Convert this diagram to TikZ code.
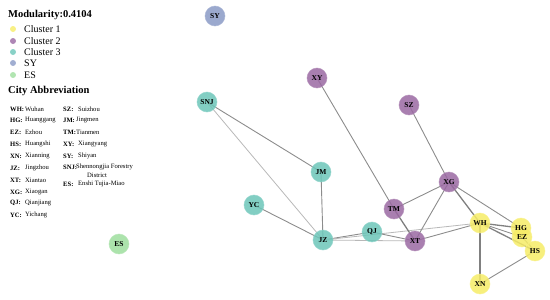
\documentclass[tikz,border=0pt]{standalone}
\usepackage{fontspec}
\setmainfont{Liberation Serif}
\pgfdeclarelayer{bg}\pgfdeclarelayer{fl}\pgfsetlayers{bg,fl,main}
\begin{document}
\begin{tikzpicture}[x=1pt,y=-1pt,
  cityn/.style={circle,minimum size=20pt,inner sep=0pt,font=\fontsize{7.5}{8}\selectfont\bfseries},
  ethick/.style={draw=black!50,line width=1.3pt},
  emed/.style={draw=black!45,line width=0.9pt},
  elight/.style={draw=black!28,line width=0.8pt},
  legdot/.style={circle,inner sep=0pt,minimum size=6pt,fill opacity=0.8},
  legtxt/.style={anchor=west,inner sep=0pt,font=\fontsize{10}{11}\selectfont},
  abc/.style={anchor=west,inner sep=0pt,font=\fontsize{6.6}{7}\selectfont},
  hd/.style={anchor=west,inner sep=0pt,font=\fontsize{10.5}{12}\selectfont\bfseries}
]
\definecolor{cyel}{HTML}{F6EC66}
\definecolor{cpur}{HTML}{9A68A2}
\definecolor{ctea}{HTML}{6CC6B9}
\definecolor{csyc}{HTML}{8A9AC6}
\definecolor{cesc}{HTML}{9EDE9E}
\useasboundingbox (0,0) rectangle (550,300);

% nodes (labels on main layer)
\node[cityn] (SY) at (215,16) {SY};
\node[cityn] (XY) at (317,78) {XY};
\node[cityn] (SNJ) at (207,102) {SNJ};
\node[cityn] (SZ) at (409,105) {SZ};
\node[cityn] (JM) at (321,172) {JM};
\node[cityn] (YC) at (254,205) {YC};
\node[cityn] (JZ) at (323,240) {JZ};
\node[cityn] (QJ) at (372,232) {QJ};
\node[cityn] (TM) at (394,209) {TM};
\node[cityn] (XT) at (415,241) {XT};
\node[cityn] (XG) at (449,182) {XG};
\node[cityn] (WH) at (480,223) {WH};
\node[cityn] (HG) at (521,228) {HG};
\node[cityn] (EZ) at (522,237) {EZ};
\node[cityn] (HS) at (535,251) {HS};
\node[cityn] (XN) at (480,284) {XN};
\node[cityn] (ES) at (119,244) {ES};

% node fills
\begin{pgfonlayer}{fl}
\foreach \n/\c in {SY/csyc,XY/cpur,SNJ/ctea,SZ/cpur,JM/ctea,YC/ctea,JZ/ctea,QJ/ctea,TM/cpur,XT/cpur,XG/cpur,WH/cyel,HG/cyel,EZ/cyel,HS/cyel,XN/cyel,ES/cesc}
  \filldraw[fill=\c,draw=\c!75!white,fill opacity=0.85,draw opacity=0.7,line width=0.6pt] (\n.center) circle (10pt);
\end{pgfonlayer}

% edges (behind nodes)
\begin{pgfonlayer}{bg}
\draw[elight] (SNJ.center) -- (JZ.center);
\draw[emed] (SNJ.center) -- (JM.center);
\draw[emed] (XY.center) -- (TM.center);
\draw[emed] (SZ.center) -- (XG.center);
\draw[emed] (JM.center) -- (JZ.center);
\draw[emed] (YC.center) -- (JZ.center);
\draw[emed] (JZ.center) -- (QJ.center);
\draw[elight] (JZ.center) -- (XT.center);
\draw[elight] (JZ.center) -- (WH.center);
\draw[emed] (QJ.center) -- (XT.center);
\draw[ethick] (TM.center) -- (XT.center);
\draw[emed] (TM.center) -- (XG.center);
\draw[emed] (XG.center) -- (XT.center);
\draw[ethick] (XG.center) -- (WH.center);
\draw[emed] (XG.center) -- (HG.center);
\draw[emed] (XT.center) -- (WH.center);
\draw[ethick] (WH.center) -- (HG.center);
\draw[emed] (WH.center) -- (EZ.center);
\draw[ethick] (WH.center) -- (HS.center);
\draw[ethick] (WH.center) -- (XN.center);
\draw[emed] (XN.center) -- (HS.center);
\draw[emed] (EZ.center) -- (HS.center);
\end{pgfonlayer}

% legend
\node[hd] (mod) at (8,15) {Modularity:0.4104};
\node[legdot,fill=cyel] (d1) at (13,29) {};
\node[legtxt] (l1) at (24,29) {Cluster 1};
\node[legdot,fill=cpur] (d2) at (13,41) {};
\node[legtxt] (l2) at (24,41) {Cluster 2};
\node[legdot,fill=ctea] (d3) at (13,52) {};
\node[legtxt] (l3) at (24,52) {Cluster 3};
\node[legdot,fill=csyc] (d4) at (13,63) {};
\node[legtxt] (l4) at (24,63) {SY};
\node[legdot,fill=cesc] (d5) at (13,75) {};
\node[legtxt] (l5) at (24,75) {ES};
\node[hd] (ca) at (8,91) {City Abbreviation};

\node[abc] (a1) at (10,109) {\textbf{WH:}};\node[abc] (b1) at (25,109) {Wuhan};
\node[abc] (a2) at (10,120) {\textbf{HG:}};\node[abc] (b2) at (25,120) {Huanggang};
\node[abc] (a3) at (10,132) {\textbf{EZ:}};\node[abc] (b3) at (25,132) {Ezhou};
\node[abc] (a4) at (10,144) {\textbf{HS:}};\node[abc] (b4) at (25,144) {Huangshi};
\node[abc] (a5) at (10,156) {\textbf{XN:}};\node[abc] (b5) at (25,156) {Xianning};
\node[abc] (a6) at (10,168) {\textbf{JZ:}};\node[abc] (b6) at (25,168) {Jingzhou};
\node[abc] (a7) at (10,180) {\textbf{XT:}};\node[abc] (b7) at (25,180) {Xiantao};
\node[abc] (a8) at (10,192) {\textbf{XG:}};\node[abc] (b8) at (25,192) {Xiaogan};
\node[abc] (a9) at (10,203) {\textbf{QJ:}};\node[abc] (b9) at (25,203) {Qianjiang};
\node[abc] (a10) at (10,215) {\textbf{YC:}};\node[abc] (b10) at (25,215) {Yichang};

\node[abc] (c1) at (63,109) {\textbf{SZ:}};\node[abc] (e1) at (78,109) {Suizhou};
\node[abc] (c2) at (63,120) {\textbf{JM:}};\node[abc] (e2) at (76,120) {Jingmen};
\node[abc] (c3) at (63,132) {\textbf{TM:}};\node[abc] (e3) at (76,132) {Tianmen};
\node[abc] (c4) at (63,144) {\textbf{XY:}};\node[abc] (e4) at (78,144) {Xiangyang};
\node[abc] (c5) at (63,156) {\textbf{SY:}};\node[abc] (e5) at (78,156) {Shiyan};
\node[abc] (c6) at (63,167) {\textbf{SNJ:}};\node[abc] (e6) at (76,167) {Shennongjia Forestry};
\node[abc] (e6b) at (87,175) {District};
\node[abc] (c7) at (63,184) {\textbf{ES:}};\node[abc] (e7) at (78,184) {Enshi Tujia-Miao};
\end{tikzpicture}
\end{document}
